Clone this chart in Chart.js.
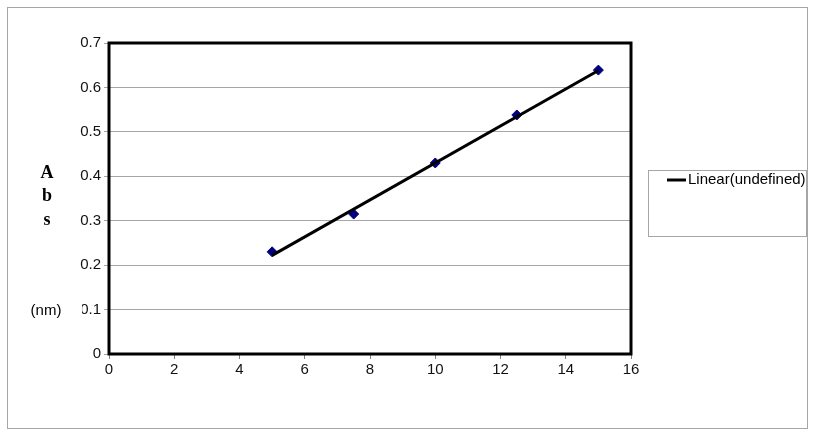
<!DOCTYPE html>
<html>
<head>
<meta charset="utf-8">
<script src="https://cdn.jsdelivr.net/npm/chart.js@4"></script>
<style>
  html, body { margin: 0; padding: 0; background: #fff; }
  #wrap { width: 815px; height: 439px; }
</style>
</head>
<body>
<div id="wrap"><canvas id="absChart" width="815" height="439"></canvas></div>
<script>
/* ---------- data ---------- */
const concX = [5, 7.5, 10, 12.5, 15];
const absY = [0.23, 0.315, 0.43, 0.538, 0.639];
// trendline end points (as drawn in the original)
const trendX = [5, 15];
const trendY = [0.222, 0.638];
const xTicks = [0, 2, 4, 6, 8, 10, 12, 14, 16];
const yTicks = [0, 0.1, 0.2, 0.3, 0.4, 0.5, 0.6, 0.7];
const legendLabel = "Linear(undefined)";

const FONT = "'Liberation Sans', Arial, sans-serif";

/* ---------- frame, border, legend, axis title ---------- */
const decorPlugin = {
  id: "decor",
  beforeDraw(chart) {
    const ctx = chart.ctx;
    ctx.save();
    ctx.fillStyle = "#fff";
    ctx.fillRect(0, 0, chart.width, chart.height);
    ctx.strokeStyle = "#a6a6a6";
    ctx.lineWidth = 1;
    ctx.strokeRect(7.5, 7.5, 800, 421);
    ctx.restore();
  },
  afterDraw(chart) {
    const ctx = chart.ctx;
    const a = chart.chartArea;
    ctx.save();

    // plot border
    ctx.strokeStyle = "#000";
    ctx.lineWidth = 3;
    ctx.strokeRect(a.left, a.top, a.right - a.left, a.bottom - a.top);

    // legend box (text runs into the right edge, as in the original)
    ctx.lineWidth = 1;
    ctx.strokeStyle = "#a6a6a6";
    ctx.fillStyle = "#fff";
    ctx.fillRect(648.5, 170.5, 158, 66);
    ctx.strokeRect(648.5, 170.5, 158, 66);
    ctx.strokeStyle = "#000";
    ctx.lineWidth = 3;
    ctx.beginPath();
    ctx.moveTo(667, 180);
    ctx.lineTo(686, 180);
    ctx.stroke();
    ctx.save();
    ctx.beginPath();
    ctx.rect(648, 170, 158, 66);
    ctx.clip();
    ctx.fillStyle = "#000";
    ctx.font = "15px " + FONT;
    ctx.textBaseline = "middle";
    ctx.textAlign = "left";
    ctx.fillText(legendLabel, 688, 180);
    ctx.restore();

    // y axis title, stacked letters
    ctx.fillStyle = "#000";
    ctx.textBaseline = "middle";
    ctx.font = "bold 18px 'Liberation Serif', 'Times New Roman', serif";
    ctx.textAlign = "center";
    ctx.fillText("A", 47, 173);
    ctx.fillText("b", 47, 196);
    ctx.fillText("s", 47, 220);

    // "(nm)" sits over the 0.1 label
    ctx.fillStyle = "#fff";
    ctx.fillRect(24, 300, 58, 22);
    ctx.fillStyle = "#000";
    ctx.font = "15px " + FONT;
    ctx.fillText("(nm)", 46, 311);
    ctx.restore();
  }
};

new Chart(document.getElementById("absChart"), {
  type: "scatter",
  data: {
    datasets: [
      {
        label: "Abs",
        data: concX.map((x, i) => ({ x: x, y: absY[i] })),
        pointStyle: "rectRot",
        pointRadius: 5,
        backgroundColor: "#000080",
        borderColor: "#000080",
        borderWidth: 1,
        order: 1
      },
      {
        label: legendLabel,
        data: trendX.map((x, i) => ({ x: x, y: trendY[i] })),
        showLine: true,
        borderColor: "#000",
        borderWidth: 3,
        pointRadius: 0,
        order: 0
      }
    ]
  },
  options: {
    responsive: false,
    animation: false,
    layout: { padding: { left: 0, right: 184, top: 43, bottom: 0 } },
    plugins: {
      legend: { display: false },
      tooltip: { enabled: false }
    },
    scales: {
      x: {
        type: "linear",
        min: 0,
        max: 16,
        afterBuildTicks: (s) => { s.ticks = xTicks.map(v => ({ value: v })); },
        afterFit: (s) => { s.height = 85; },
        grid: {
          drawOnChartArea: false,
          drawTicks: true,
          tickLength: 5,
          color: "#808080"
        },
        border: { display: false },
        ticks: {
          color: "#111",
          font: { family: FONT, size: 15 },
          padding: 2,
          maxRotation: 0
        }
      },
      y: {
        type: "linear",
        min: 0,
        max: 0.7,
        afterBuildTicks: (s) => { s.ticks = yTicks.map(v => ({ value: v })); },
        afterFit: (s) => { s.width = 109; },
        grid: {
          color: "#a6a6a6",
          lineWidth: 1,
          tickLength: 5
        },
        border: { display: false },
        ticks: {
          color: "#111",
          font: { family: FONT, size: 15 },
          padding: 3,
          callback: (v) => String(Math.round(v * 10) / 10)
        }
      }
    }
  },
  plugins: [decorPlugin]
});
</script>
</body>
</html>
